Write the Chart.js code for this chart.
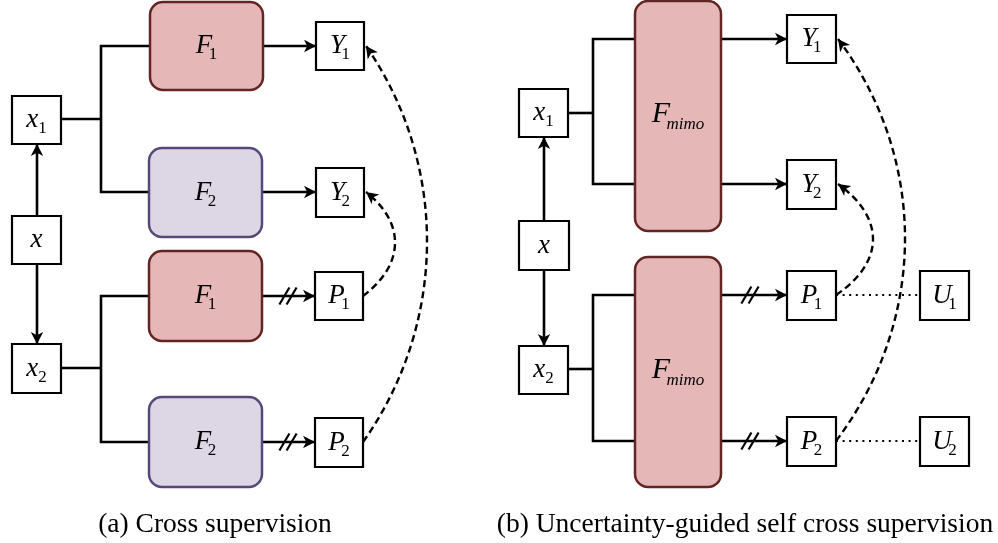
<!DOCTYPE html>
<html>
<head>
<meta charset="utf-8">
<script src="https://cdn.jsdelivr.net/npm/chart.js@4.4.0/dist/chart.umd.min.js"></script>
<style>
  html, body { margin: 0; padding: 0; background: #fff; }
  #wrap { width: 998px; height: 543px; }
</style>
</head>
<body>
<div id="wrap"><canvas id="diagram" width="998" height="543"></canvas></div>
<script>
// boxes: [letter, subscript, left, top, right, bottom, kind]
const nodesA = [
	["x", "1", 12, 96, 61, 144, "plain"],
	["x", "", 12, 216, 61, 264, "plain"],
	["x", "2", 12, 344, 61, 393, "plain"],
	["F", "1", 150, 2, 263, 90, "red"],
	["F", "2", 149, 148, 262, 237, "purple"],
	["F", "1", 149, 251, 262, 341, "red"],
	["F", "2", 149, 397, 262, 487, "purple"],
	["Y", "1", 316, 22, 364, 70, "plain"],
	["Y", "2", 316, 168, 364, 217, "plain"],
	["P", "1", 315, 272, 363, 320, "plain"],
	["P", "2", 315, 418, 363, 467, "plain"]
];
const nodesB = [
	["x", "1", 519, 89, 568, 137, "plain"],
	["x", "", 519, 221, 569, 270, "plain"],
	["x", "2", 519, 346, 568, 394, "plain"],
	["F", "mimo", 635, 1, 721, 231, "mimo"],
	["F", "mimo", 635, 257, 721, 487, "mimo"],
	["Y", "1", 787, 15, 836, 63, "plain"],
	["Y", "2", 787, 160, 836, 209, "plain"],
	["P", "1", 787, 271, 836, 320, "plain"],
	["P", "2", 787, 417, 836, 466, "plain"],
	["U", "1", 920, 271, 969, 320, "plain"],
	["U", "2", 920, 417, 969, 466, "plain"]
];

// wires: [points, arrow head at end, x of the // cut mark]
const wiresA = [
	[[[61, 119], [101, 119]], false, null],
	[[[150, 46], [101, 46], [101, 192], [149, 192]], false, null],
	[[[263, 46], [316, 46]], true, null],
	[[[262, 192], [316, 192]], true, null],
	[[[37, 216], [37, 144]], true, null],
	[[[37, 264], [37, 344]], true, null],
	[[[61, 368], [101, 368]], false, null],
	[[[149, 296], [101, 296], [101, 442], [149, 442]], false, null],
	[[[262, 296], [315, 296]], true, 288],
	[[[262, 442], [315, 442]], true, 288]
];
const wiresB = [
	[[[568, 113], [593, 113]], false, null],
	[[[635, 39], [593, 39], [593, 184], [635, 184]], false, null],
	[[[721, 39], [787, 39]], true, null],
	[[[721, 184], [787, 184]], true, null],
	[[[544, 221], [544, 137]], true, null],
	[[[544, 270], [544, 346]], true, null],
	[[[568, 369], [593, 369]], false, null],
	[[[635, 295], [593, 295], [593, 441], [635, 441]], false, null],
	[[[721, 295], [787, 295]], true, 750],
	[[[721, 441], [787, 441]], true, 750]
];

// dotted links P -> U
const dottedLinks = [
	[[836, 295], [920, 295]],
	[[836, 441], [920, 441]]
];

// dashed supervision curves: start, apex, end (arrow at end)
const dashedCurves = [
	[[363, 296], [395, 244], [366, 192]],
	[[363, 442], [427, 244], [366, 46]],
	[[836, 295], [873, 240], [838, 184]],
	[[836, 441], [905, 240], [838, 39]]
];

const captions = ["(a) Cross supervision", "(b) Uncertainty-guided self cross supervision"];
const captionAnchors = [[215, 532], [745, 532]];

const boxStyles = {
	plain: { fill: "#ffffff", stroke: "#000000", width: 2.2, radius: 0 },
	red: { fill: "#e5b8b7", stroke: "#632523", width: 2.5, radius: 13 },
	purple: { fill: "#ddd7e5", stroke: "#584878", width: 2.5, radius: 13 },
	mimo: { fill: "#e5b8b7", stroke: "#632523", width: 2.5, radius: 13 }
};
const serif = '"Liberation Serif", "Times New Roman", serif';

const allNodes = nodesA.concat(nodesB);
const allWires = wiresA.concat(wiresB);

function toXY(p) {
	return { x: p[0], y: p[1] };
}

let datasets = [];
allWires.map((w) => {
	datasets.push({
		data: w[0].map(toXY),
		showLine: true,
		borderColor: "#000",
		borderWidth: 2.6,
		borderJoinStyle: "miter",
		pointRadius: 0,
		tension: 0,
		clip: false,
		arrow: w[1],
		cut: w[2]
	});
});
dottedLinks.map((d) => {
	datasets.push({
		data: d.map(toXY),
		showLine: true,
		borderColor: "#000",
		borderWidth: 2.2,
		borderDash: [2, 4.6],
		pointRadius: 0,
		tension: 0,
		clip: false
	});
});
// curves: points only, the plugin draws the bend through them
dashedCurves.map((c) => {
	datasets.push({
		data: c.map(toXY),
		showLine: false,
		pointRadius: 0,
		clip: false,
		curve: true
	});
});

function drawHead(ctx, tx, ty, dx, dy) {
	let len = Math.hypot(dx, dy);
	if (len === 0) return;
	let ux = dx / len, uy = dy / len;
	let px = -uy, py = ux;
	const L = 12, W = 6.2, notch = 3.2;
	let bx = tx - ux * L, by = ty - uy * L;
	ctx.beginPath();
	ctx.moveTo(tx, ty);
	ctx.lineTo(bx + px * W, by + py * W);
	ctx.lineTo(tx - ux * (L - notch), ty - uy * (L - notch));
	ctx.lineTo(bx - px * W, by - py * W);
	ctx.closePath();
	ctx.fillStyle = "#000";
	ctx.fill();
}

function drawLabel(ctx, cx, cy, letter, sub, big) {
	let mainPx = big ? 30 : 27;
	let subPx = big ? 17 : 17;
	ctx.font = "italic " + mainPx + "px " + serif;
	let w1 = ctx.measureText(letter).width;
	let subFont = (sub.length > 1 ? "italic " : "") + subPx + "px " + serif;
	ctx.font = subFont;
	let w2 = sub ? ctx.measureText(sub).width : 0;
	let kern = sub ? (letter === "x" ? 0 : 3.5) : 0;
	let start = cx - (w1 + w2 - kern) / 2;
	let base = cy + (big ? 6 : 7);
	ctx.fillStyle = "#000";
	ctx.textAlign = "left";
	ctx.textBaseline = "alphabetic";
	ctx.font = "italic " + mainPx + "px " + serif;
	ctx.fillText(letter, start, base);
	if (sub) {
		ctx.font = subFont;
		ctx.fillText(sub, start + w1 - kern, base + (big ? 7 : 6));
	}
}

const diagramPlugin = {
	id: "diagram",
	afterDatasetsDraw(chart) {
		const ctx = chart.ctx;
		const sx = chart.scales.x, sy = chart.scales.y;
		ctx.save();

		// dashed bends: cubic through start, apex, end
		chart.data.datasets.map((ds, i) => {
			if (!ds.curve) return;
			let p = chart.getDatasetMeta(i).data;
			let p0 = p[0], ap = p[1], p3 = p[2];
			let mx = (p0.x + p3.x) / 2, my = (p0.y + p3.y) / 2;
			let hx = (ap.x - mx) * 4 / 3, hy = (ap.y - my) * 4 / 3;
			let vx = p3.x - p0.x, vy = p3.y - p0.y;
			const a = 0.3;
			let c1x = p0.x + a * vx + hx, c1y = p0.y + a * vy + hy;
			let c2x = p3.x - a * vx + hx, c2y = p3.y - a * vy + hy;
			ctx.beginPath();
			ctx.moveTo(p0.x, p0.y);
			ctx.bezierCurveTo(c1x, c1y, c2x, c2y, p3.x, p3.y);
			ctx.setLineDash([7, 4.2]);
			ctx.lineWidth = 2.4;
			ctx.strokeStyle = "#000";
			ctx.stroke();
			ctx.setLineDash([]);
			drawHead(ctx, p3.x, p3.y, p3.x - c2x, p3.y - c2y);
		});

		// boxes
		allNodes.map((n) => {
			let st = boxStyles[n[6]];
			let x0 = sx.getPixelForValue(n[2]), y0 = sy.getPixelForValue(n[3]);
			let x1 = sx.getPixelForValue(n[4]), y1 = sy.getPixelForValue(n[5]);
			ctx.beginPath();
			if (st.radius > 0) {
				ctx.roundRect(x0, y0, x1 - x0, y1 - y0, st.radius);
			} else {
				ctx.rect(x0, y0, x1 - x0, y1 - y0);
			}
			ctx.fillStyle = st.fill;
			ctx.fill();
			ctx.lineWidth = st.width;
			ctx.strokeStyle = st.stroke;
			ctx.stroke();
			drawLabel(ctx, (x0 + x1) / 2, (y0 + y1) / 2, n[0], n[1], n[6] === "mimo");
		});

		// arrow heads and cut marks on the wires
		chart.data.datasets.map((ds, i) => {
			if (ds.curve) return;
			let pts = chart.getDatasetMeta(i).data;
			let last = pts[pts.length - 1];
			let prev = pts[pts.length - 2];
			if (ds.arrow) {
				drawHead(ctx, last.x, last.y, last.x - prev.x, last.y - prev.y);
			}
			if (ds.cut !== null && ds.cut !== undefined) {
				let cx = sx.getPixelForValue(ds.cut);
				let cy = last.y;
				ctx.strokeStyle = "#000";
				ctx.lineWidth = 2.2;
				[-3.6, 3.6].map((off) => {
					ctx.beginPath();
					ctx.moveTo(cx + off - 5, cy + 8.5);
					ctx.lineTo(cx + off + 5, cy - 8.5);
					ctx.stroke();
				});
			}
		});

		// captions
		ctx.fillStyle = "#000";
		ctx.font = "27.5px " + serif;
		ctx.textAlign = "center";
		ctx.textBaseline = "alphabetic";
		captions.map((c, i) => {
			ctx.fillText(c, sx.getPixelForValue(captionAnchors[i][0]), sy.getPixelForValue(captionAnchors[i][1]));
		});
		ctx.restore();
	}
};

new Chart(document.getElementById("diagram"), {
	type: "scatter",
	data: { datasets: datasets },
	options: {
		responsive: false,
		animation: false,
		events: [],
		layout: { padding: 0 },
		plugins: {
			legend: { display: false },
			tooltip: { enabled: false }
		},
		scales: {
			x: { type: "linear", min: 0, max: 998, display: false },
			y: { type: "linear", min: 0, max: 543, reverse: true, display: false }
		}
	},
	plugins: [diagramPlugin]
});
</script>
</body>
</html>
